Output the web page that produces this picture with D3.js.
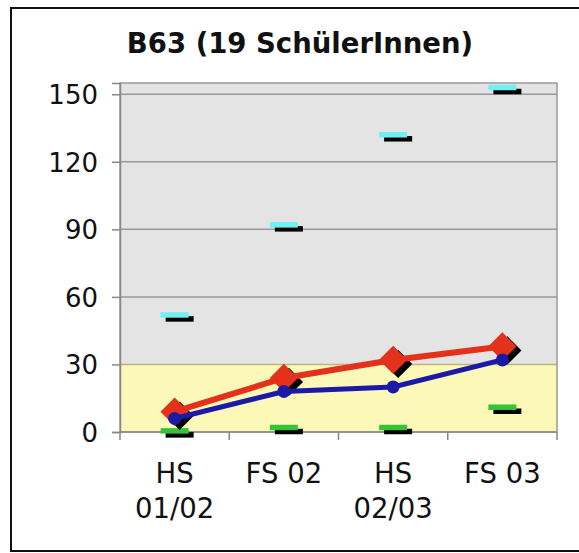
<!DOCTYPE html>
<html>
<head>
<meta charset="utf-8">
<script src="https://cdn.jsdelivr.net/npm/d3@7/dist/d3.min.js"></script>
<style>
  html, body { margin: 0; padding: 0; background: #ffffff; }
  svg { display: block; }
  text { font-family: "DejaVu Sans", Verdana, sans-serif; fill: #111; }
</style>
</head>
<body>
<svg id="chart" width="579" height="553"></svg>
<script>
// ---- data ----
const title = "B63 (19 SchülerInnen)";
const categories = ["HS 01/02", "FS 02", "HS 02/03", "FS 03"];
const categoryLines = [["HS", "01/02"], ["FS 02"], ["HS", "02/03"], ["FS 03"]];
const redValues = [9, 24, 32, 38];
const blueValues = [6, 18, 20, 32];
const maxValues = [52, 92, 132, 153];
const minValues = [0.5, 2, 2, 11];
const yTicks = [0, 30, 60, 90, 120, 150];
const yMax = 155;
const bandLimit = 30;

// ---- layout ----
const svg = d3.select("#chart");
const plot = { left: 120, right: 557, top: 83, bottom: 432 };

const x = d3.scaleBand().domain(categories).range([plot.left, plot.right]).padding(0);
const y = d3.scaleLinear().domain([0, yMax]).range([plot.bottom, plot.top]);
const cx = c => x(c) + x.bandwidth() / 2;

// outer frame
svg.append("rect")
  .attr("x", 11).attr("y", 8).attr("width", 600).attr("height", 543)
  .attr("fill", "#fff").attr("stroke", "#111").attr("stroke-width", 2);

// title
svg.append("text")
  .attr("x", 300).attr("y", 53)
  .attr("text-anchor", "middle")
  .style("font-weight", "bold").style("font-size", "27.5px")
  .text(title);

// background bands
svg.append("rect")
  .attr("x", plot.left).attr("y", y(yMax))
  .attr("width", plot.right - plot.left).attr("height", y(bandLimit) - y(yMax))
  .attr("fill", "#e4e4e4");
svg.append("rect")
  .attr("x", plot.left).attr("y", y(bandLimit))
  .attr("width", plot.right - plot.left).attr("height", y(0) - y(bandLimit))
  .attr("fill", "#fcf8b8");

// gridlines
svg.append("g").selectAll("line").data(yTicks.filter(t => t > 0)).join("line")
  .attr("x1", plot.left).attr("x2", plot.right)
  .attr("y1", d => y(d)).attr("y2", d => y(d))
  .attr("stroke", d => d === bandLimit ? "#bdb67a" : "#9a9a9a")
  .attr("stroke-width", 1.5);

// plot border
svg.append("rect")
  .attr("x", plot.left).attr("y", plot.top)
  .attr("width", plot.right - plot.left).attr("height", plot.bottom - plot.top)
  .attr("fill", "none").attr("stroke", "#9a9a9a").attr("stroke-width", 1.5);

// y axis
const yAxis = d3.axisLeft(y).tickValues(yTicks).tickSize(8).tickPadding(14).tickFormat(d3.format("d"));
const gy = svg.append("g").attr("transform", `translate(${plot.left},0)`).call(yAxis);
gy.select(".domain").attr("stroke", "#888").attr("stroke-width", 1.5);
gy.selectAll(".tick line").attr("stroke", "#888").attr("stroke-width", 1.5);
gy.selectAll(".tick text").style("font-size", "26px").attr("fill", "#111")
  .attr("font-family", "DejaVu Sans, Verdana, sans-serif").attr("dy", "0.36em");

// x axis (ticks at band boundaries)
svg.append("line")
  .attr("x1", plot.left).attr("x2", plot.right)
  .attr("y1", plot.bottom).attr("y2", plot.bottom)
  .attr("stroke", "#888").attr("stroke-width", 1.5);
const boundaries = categories.map(c => x(c)).concat([plot.right]);
svg.append("g").selectAll("line").data(boundaries).join("line")
  .attr("x1", d => d).attr("x2", d => d)
  .attr("y1", plot.bottom).attr("y2", plot.bottom + 8)
  .attr("stroke", "#888").attr("stroke-width", 1.5);

const xl = svg.append("g");
categories.forEach((c, i) => {
  const t = xl.append("text")
    .attr("x", cx(c)).attr("y", 483)
    .attr("text-anchor", "middle").style("font-size", "27.5px");
  categoryLines[i].forEach((line, j) => {
    t.append("tspan").attr("x", cx(c)).attr("dy", j === 0 ? 0 : 35).text(line);
  });
});

// ---- marks ----
const sdx = 5, sdy = 4;
const dashW = 28, dashH = 5.5;

function dashes(values, color) {
  const g = svg.append("g");
  g.selectAll("rect.sh").data(values).join("rect")
    .attr("x", (d, i) => cx(categories[i]) - dashW / 2 + sdx)
    .attr("y", d => y(d) - dashH / 2 + sdy)
    .attr("width", dashW).attr("height", dashH).attr("fill", "#000");
  g.selectAll("rect.mk").data(values).join("rect")
    .attr("x", (d, i) => cx(categories[i]) - dashW / 2)
    .attr("y", d => y(d) - dashH / 2)
    .attr("width", dashW).attr("height", dashH).attr("fill", color);
}
dashes(minValues, "#35c435");
dashes(maxValues, "#6ff0f2");

// red series
const seriesLine = d3.line().x((d, i) => cx(categories[i])).y(d => y(d));
const diamond = d3.symbol().type(d3.symbolSquare).size(400);
const gr = svg.append("g");
gr.selectAll("path.sh").data(redValues).join("path")
  .attr("d", diamond)
  .attr("transform", (d, i) => `translate(${cx(categories[i]) + sdx},${y(d) + sdy}) rotate(45)`)
  .attr("fill", "#000");
gr.append("path").datum(redValues)
  .attr("d", seriesLine).attr("fill", "none")
  .attr("stroke", "#e4311c").attr("stroke-width", 6);
gr.selectAll("path.mk").data(redValues).join("path")
  .attr("class", "mk")
  .attr("d", diamond)
  .attr("transform", (d, i) => `translate(${cx(categories[i])},${y(d)}) rotate(45)`)
  .attr("fill", "#e4311c");

// blue series
const gb = svg.append("g");
gb.append("path").datum(blueValues)
  .attr("d", seriesLine).attr("fill", "none")
  .attr("stroke", "#1a1aa6").attr("stroke-width", 5);
gb.selectAll("circle").data(blueValues).join("circle")
  .attr("cx", (d, i) => cx(categories[i])).attr("cy", d => y(d)).attr("r", 6.5)
  .attr("fill", "#1a1aa6");
</script>
</body>
</html>
